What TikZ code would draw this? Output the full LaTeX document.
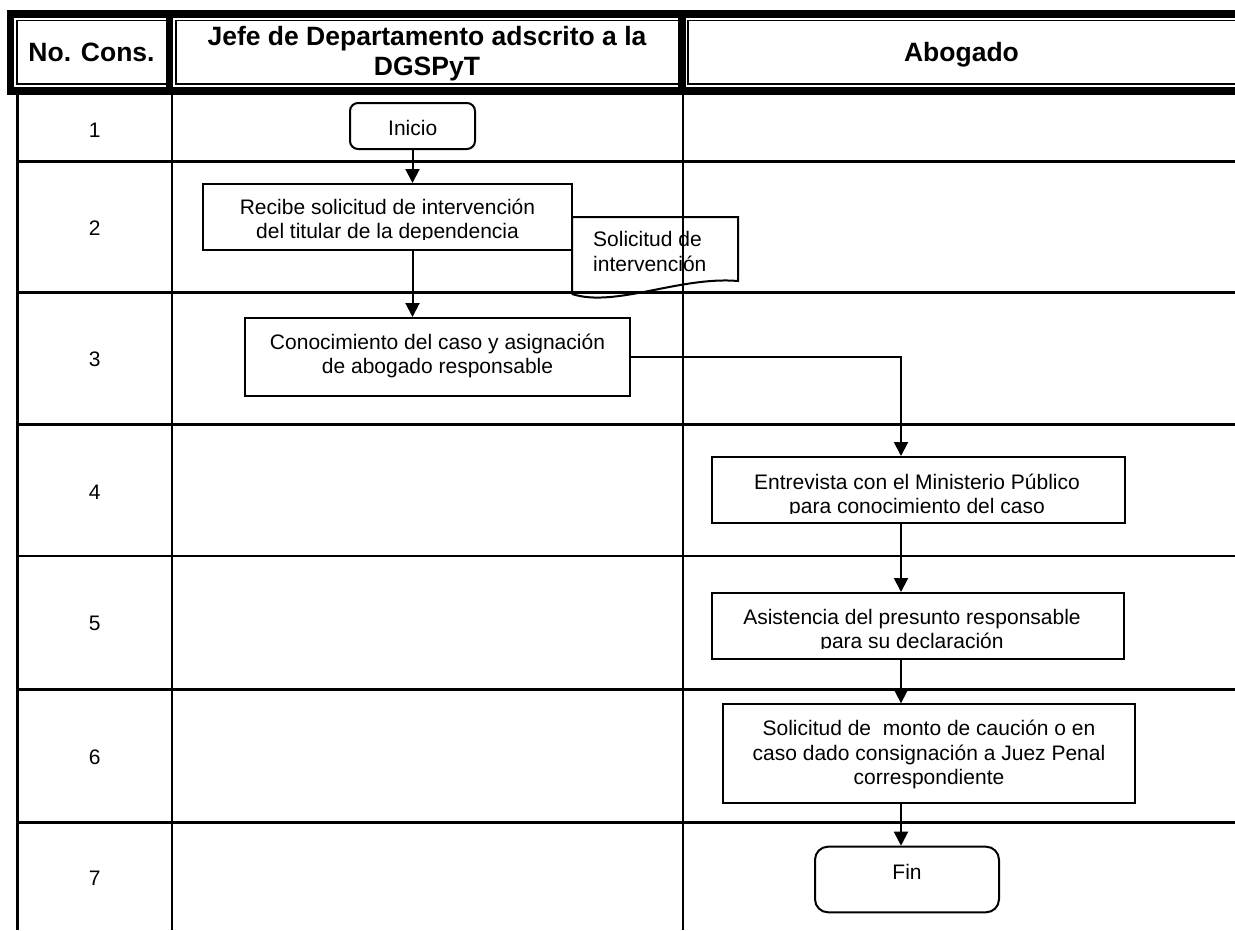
\documentclass[tikz,border=0pt]{standalone}
\usepackage{fontspec}
\setmainfont{Liberation Sans}
\usetikzlibrary{arrows.meta}
\begin{document}
\begin{tikzpicture}[x=1pt,y=-1pt,
  grid/.style={line width=2.7pt},
  thinline/.style={line width=1.5pt},
  band/.style={fill=black},
  box/.style={draw, line width=2pt, inner sep=0pt},
  txt/.style={align=center, font=\fontsize{21}{24.2}\selectfont, inner sep=0pt},
  hdr/.style={align=center, font=\bfseries\fontsize{26.5}{30}\selectfont, inner sep=0pt},
  arr/.style={line width=2pt, -{Triangle[length=14pt,width=14pt]}}]
\useasboundingbox (0,0) rectangle (1235,930);
% header bands
\fill[band] (7,10) rectangle (1235,18);
\fill[band] (7,10) rectangle (14,95);
\fill[band] (7,87) rectangle (1235,95);
\fill[band] (166,18) rectangle (173,87);
\fill[band] (678,18) rectangle (686,87);
\draw[thinline] (166,20.5) -- (17,20.5) -- (17,84) -- (166,84);
\draw[thinline] (678,20.5) -- (176,20.5) -- (176,84) -- (678,84);
\draw[thinline] (1235,20.5) -- (688,20.5) -- (688,84) -- (1235,84);
\node[hdr] (h1) at (91.5,52) {No. Cons.};
\node[hdr] (h2) at (427,54) {Jefe de Departamento adscrito a la\\DGSPyT};
\node[hdr] (h3) at (961.5,55) {Abogado};
% body grid
\draw[grid] (17.5,95) -- (17.5,930);
\draw[grid] (172,95) -- (172,930);
\draw[grid] (683,95) -- (683,930);
\foreach \yy in {161.7,292.5,424.5,556,689.5,822.7}
  \draw[grid] (17.5,\yy) -- (1235,\yy);
% numbers
\node[txt] (n1) at (94.7,130) {1};
\node[txt] (n2) at (94.7,228) {2};
\node[txt] (n3) at (94.7,359) {3};
\node[txt] (n4) at (94.7,492) {4};
\node[txt] (n5) at (94.7,623) {5};
\node[txt] (n6) at (94.7,757) {6};
\node[txt] (n7) at (94.7,878) {7};
% shapes
\node[box, rounded corners=8pt, minimum width=125pt, minimum height=46pt] (ini) at (412.5,126) {};
\node[txt] (init) at (412.7,128) {Inicio};
\node[box, minimum width=369pt, minimum height=66pt] (b2) at (387.5,217) {};
\begin{scope}
  \clip (205,186) rectangle (570,239.6);
  \node[txt] (b2t) at (387.5,221.2) {Recibe solicitud de intervención\\del titular de la dependencia};
\end{scope}
\draw[line width=2pt] (572,294) -- (572,217) -- (738,217) -- (738,281)
  .. controls (680,276) and (615,308) .. (572,294);
\node[txt, align=left, anchor=west] (doct) at (593,251.4) {Solicitud de\\intervención};
\node[box, minimum width=385pt, minimum height=78pt] (b3) at (437.5,357) {};
\node[txt] (b3t) at (437.5,355.7) {Conocimiento del caso y asignación\\de abogado responsable};
\node[box, minimum width=413pt, minimum height=66pt] (b4) at (918.5,490) {};
\begin{scope}
  \clip (714,459) rectangle (1123,513.6);
  \node[txt] (b4t) at (917,495.6) {Entrevista con el Ministerio Público\\para conocimiento del caso};
\end{scope}
\node[box, minimum width=412pt, minimum height=66pt] (b5) at (918,626) {};
\begin{scope}
  \clip (714,595) rectangle (1122,648.8);
  \node[txt] (b5t) at (912,631) {Asistencia del presunto responsable\\para su declaración};
\end{scope}
\node[box, minimum width=412pt, minimum height=99pt] (b6) at (929.3,753.8) {};
\node[txt] (b6t) at (929,754.5) {Solicitud de\ \ monto de caución o en\\caso dado consignación a Juez Penal\\correspondiente};
\node[box, rounded corners=13pt, minimum width=184pt, minimum height=65.6pt] (fin) at (907,879.5) {};
\node[txt] (fint) at (907,872) {Fin};
% connectors
\coordinate (ax) at (901,0);
\draw[arr] (ini.south) -- (ini.south |- b2.north);
\draw[arr] (b2.south -| ini.south) -- (b3.north -| ini.south);
\draw[arr] (b3.east) -| (b4.north -| ax);
\draw[arr] (b4.south -| ax) -- (b5.north -| ax);
\draw[arr] (b5.south -| ax) -- (b6.north -| ax);
\draw[arr] (b6.south -| ax) -- (fin.north -| ax);
\end{tikzpicture}
\end{document}
